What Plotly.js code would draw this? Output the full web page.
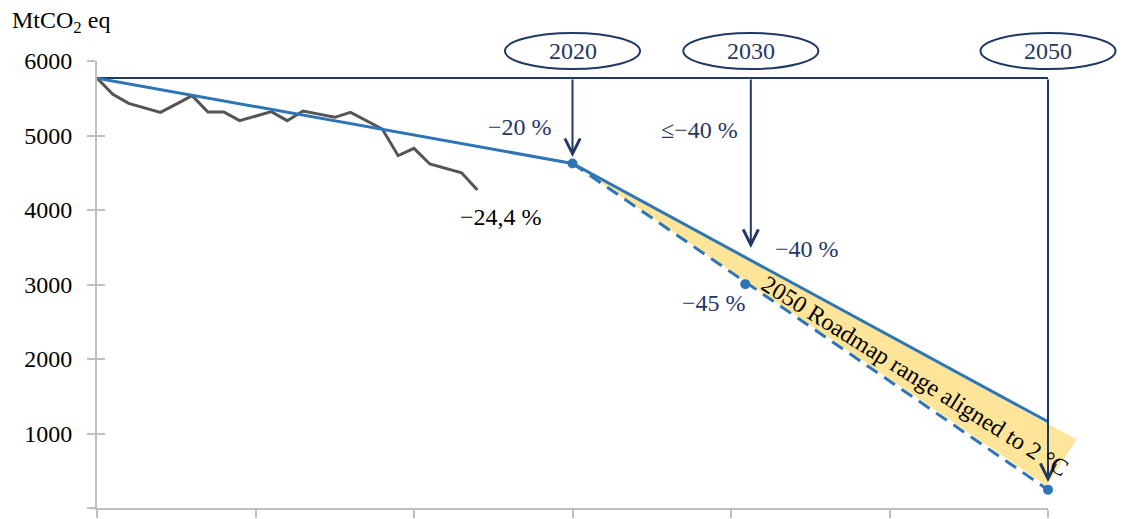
<!DOCTYPE html>
<html><head><meta charset="utf-8">
<script src="https://cdn.plot.ly/plotly-3.0.1.min.js"></script>
<style>html,body{margin:0;padding:0;background:#fff}#chart{width:1131px;height:519px}</style>
</head><body><div id="chart"></div>
<script>
// ---- data ----
const histYears  = [1990,1991,1992,1993,1994,1995,1996,1997,1998,1999,2000,2001,2002,2003,2004,2005,2006,2007,2008,2009,2010,2011,2012,2013,2014];
const histValues = [5770,5553,5432,5370,5311,5422,5534,5315,5315,5199,5260,5320,5199,5329,5287,5244,5311,5199,5087,4729,4828,4617,4559,4500,4268];
const pathYears  = [1990, 2020, 2050];
const pathUpper  = [5770, 4625, 1158];
const lowerYears = [2020, 2050];
const lowerValues= [4625, 245];
const dotYears   = [2020, 2030.9, 2050];
const dotValues  = [4625, 3005, 245];
const baselineValue = 5772;
const milestoneYears  = [2020, 2031.25, 2050];
const milestoneLabels = ['2020', '2030', '2050'];
const arrowTips  = [4710, 3490, 350];
const bandYears  = [2020, 2051.8, 2049.9];
const bandValues = [4625, 920, 300];
const pctLabels  = ['\u221220 %', '\u2264\u221240 %', '\u221240 %', '\u221245 %', '\u221280 %', '\u221295 %'];
const pctX       = [2016.7, 2028.0, 2034.8, 2028.9, 2052.8, 2052.9];
const pctY       = [5118, 5074, 3472, 2752, 1007, 152];
const histLabel  = '\u221224,4 %';
const histLabelX = 2015.5, histLabelY = 3910;
const bandLabel  = '2050 Roadmap range aligned to 2 \u00B0C';
const bandLabelX = 2041.6, bandLabelY = 1770;
const yTicks     = [0, 1000, 2000, 3000, 4000, 5000, 6000];
const xTicks     = [1990, 2000, 2010, 2020, 2030, 2040, 2050];
const xRange = [1990, 2050], yRange = [0, 6000];

// ---- styles ----
const NAVY = '#1F3864', BLUE = '#2E75B6', GREY = '#555555', AXIS = '#BFBFBF';
const FONT = '"Liberation Serif", "Times New Roman", serif';
const xp = v => (v - xRange[0]) / (xRange[1] - xRange[0]);
const yp = v => (v - yRange[0]) / (yRange[1] - yRange[0]);

const traces = [
  {x: [xRange[0], xRange[1]], y: [baselineValue, baselineValue], mode: 'lines',
   line: {color: NAVY, width: 2}, hoverinfo: 'skip'},
  {x: histYears, y: histValues, mode: 'lines', line: {color: GREY, width: 3}},
  {x: lowerYears, y: lowerValues, mode: 'lines', line: {color: BLUE, width: 3, dash: '13px,8px'}},
  {x: pathYears, y: pathUpper, mode: 'lines', line: {color: BLUE, width: 3}},
  {x: dotYears, y: dotValues, mode: 'markers', marker: {color: BLUE, size: 10}, cliponaxis: false},
  {x: [xRange[0]], y: [yRange[0]], yaxis: 'y2', mode: 'lines', hoverinfo: 'skip', showlegend: false}
];

const shapes = [];
// yellow band
let bp = 'M' + bandYears.map((yr, i) => xp(yr) + ',' + yp(bandValues[i])).join(' L') + ' Z';
shapes.push({type: 'path', xref: 'paper', yref: 'paper', path: bp,
  fillcolor: 'rgba(255,204,51,0.5)', line: {width: 0}, layer: 'below'});
milestoneYears.forEach(yr => {
  shapes.push({type: 'circle', xref: 'paper', yref: 'paper',
    x0: xp(yr) - 0.071, x1: xp(yr) + 0.071, y0: 0.982, y1: 1.0626,
    line: {color: NAVY, width: 2}});
});

const annotations = [];
milestoneYears.forEach((yr, i) => {
  annotations.push({x: yr, y: arrowTips[i], ax: yr, ay: baselineValue, xref: 'x', yref: 'y',
    axref: 'x', ayref: 'y', text: '', showarrow: true, arrowhead: 5, arrowsize: 1.5,
    arrowwidth: 2, arrowcolor: NAVY, standoff: 0});
  annotations.push({x: yr, y: 1.022, xref: 'x', yref: 'paper', text: milestoneLabels[i],
    showarrow: false, font: {color: NAVY, size: 24}, xanchor: 'center', yanchor: 'middle'});
});
pctLabels.forEach((t, i) => annotations.push({x: pctX[i], y: pctY[i], xref: 'x', yref: 'y',
  text: t, showarrow: false, font: {color: NAVY, size: 24}, xanchor: 'center', yanchor: 'middle'}));
annotations.push({x: histLabelX, y: histLabelY, xref: 'x', yref: 'y', text: histLabel,
  showarrow: false, font: {color: '#000', size: 24}, xanchor: 'center', yanchor: 'middle'});
annotations.push({x: bandLabelX, y: bandLabelY, xref: 'x', yref: 'y', text: bandLabel,
  showarrow: false, textangle: 32, font: {color: '#000', size: 24}, xanchor: 'center', yanchor: 'middle'});
annotations.push({x: -0.0915, y: 1.087, xref: 'paper', yref: 'paper', text: 'MtCO<sub>2</sub> eq',
  showarrow: false, font: {color: '#000', size: 24}, xanchor: 'left', yanchor: 'middle'});

const layout = {
  width: 1131, height: 519,
  margin: {l: 97, r: 83, t: 61, b: 11, pad: 0},
  paper_bgcolor: '#fff', plot_bgcolor: '#fff',
  showlegend: false,
  font: {family: FONT, size: 24, color: '#000'},
  xaxis: {range: xRange, tickvals: xTicks, showticklabels: false, ticks: 'outside', ticklen: 8,
    tickwidth: 2, tickcolor: AXIS, showline: true, linecolor: AXIS, linewidth: 2,
    showgrid: false, zeroline: false, fixedrange: true},
  yaxis: {range: yRange, tickvals: yTicks, ticks: 'outside', ticklen: 8, tickwidth: 2,
    tickcolor: AXIS, showline: true, linecolor: AXIS, linewidth: 2, showgrid: false,
    zeroline: false, ticklabelstandoff: 10, tickfont: {family: FONT, size: 24, color: '#000'},
    fixedrange: true},
  yaxis2: {range: yRange, tickvals: yTicks, overlaying: 'y', side: 'left', ticks: 'inside',
    ticklen: 8, tickwidth: 2, tickcolor: AXIS, showticklabels: false, showline: false,
    showgrid: false, zeroline: false, fixedrange: true},
  shapes: shapes,
  annotations: annotations
};
Plotly.newPlot('chart', traces, layout, {staticPlot: true, displayModeBar: false});
</script>
</body></html>
